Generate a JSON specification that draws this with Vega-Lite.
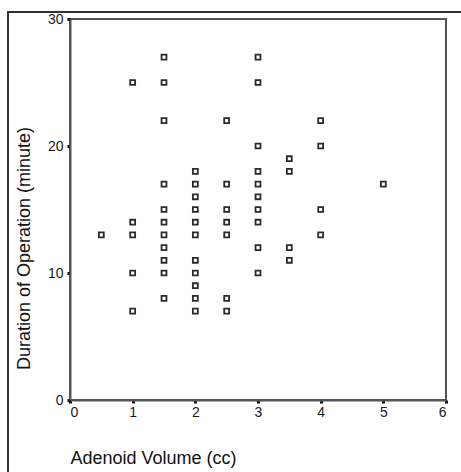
{
  "$schema": "https://vega.github.io/schema/vega-lite/v6.json",
  "autosize": "none",
  "width": 376,
  "height": 381,
  "padding": {"left": 70, "top": 19, "right": 15, "bottom": 72},
  "background": "white",
  "config": {
    "font": "Liberation Sans",
    "view": {"stroke": "#555", "strokeWidth": 2},
    "axis": {
      "grid": false,
      "domainColor": "#555",
      "domainWidth": 2,
      "tickColor": "#111",
      "tickSize": 3,
      "tickWidth": 3,
      "labelFont": "Liberation Sans",
      "labelFontSize": 14,
      "labelColor": "#1a1a1a",
      "titleFont": "Liberation Sans",
      "titleFontSize": 18,
      "titleFontWeight": "normal",
      "titleColor": "#111"
    }
  },
  "data": {"values": [
    {"volume": 0.5, "duration": 13},
    {"volume": 1, "duration": 25},
    {"volume": 1, "duration": 14},
    {"volume": 1, "duration": 13},
    {"volume": 1, "duration": 10},
    {"volume": 1, "duration": 7},
    {"volume": 1.5, "duration": 27},
    {"volume": 1.5, "duration": 25},
    {"volume": 1.5, "duration": 22},
    {"volume": 1.5, "duration": 17},
    {"volume": 1.5, "duration": 15},
    {"volume": 1.5, "duration": 14},
    {"volume": 1.5, "duration": 13},
    {"volume": 1.5, "duration": 12},
    {"volume": 1.5, "duration": 11},
    {"volume": 1.5, "duration": 10},
    {"volume": 1.5, "duration": 8},
    {"volume": 2, "duration": 18},
    {"volume": 2, "duration": 17},
    {"volume": 2, "duration": 16},
    {"volume": 2, "duration": 15},
    {"volume": 2, "duration": 14},
    {"volume": 2, "duration": 13},
    {"volume": 2, "duration": 11},
    {"volume": 2, "duration": 10},
    {"volume": 2, "duration": 9},
    {"volume": 2, "duration": 8},
    {"volume": 2, "duration": 7},
    {"volume": 2.5, "duration": 22},
    {"volume": 2.5, "duration": 17},
    {"volume": 2.5, "duration": 15},
    {"volume": 2.5, "duration": 14},
    {"volume": 2.5, "duration": 13},
    {"volume": 2.5, "duration": 8},
    {"volume": 2.5, "duration": 7},
    {"volume": 3, "duration": 27},
    {"volume": 3, "duration": 25},
    {"volume": 3, "duration": 20},
    {"volume": 3, "duration": 18},
    {"volume": 3, "duration": 17},
    {"volume": 3, "duration": 16},
    {"volume": 3, "duration": 15},
    {"volume": 3, "duration": 14},
    {"volume": 3, "duration": 12},
    {"volume": 3, "duration": 10},
    {"volume": 3.5, "duration": 19},
    {"volume": 3.5, "duration": 18},
    {"volume": 3.5, "duration": 12},
    {"volume": 3.5, "duration": 11},
    {"volume": 4, "duration": 22},
    {"volume": 4, "duration": 20},
    {"volume": 4, "duration": 15},
    {"volume": 4, "duration": 13},
    {"volume": 5, "duration": 17}
  ]},
  "layer": [
    {
      "mark": {"type": "point", "shape": "square", "filled": false, "size": 24, "strokeWidth": 1.8, "color": "#2a2a2a", "opacity": 1},
      "encoding": {
        "x": {
          "field": "volume", "type": "quantitative",
          "scale": {"domain": [0, 6], "nice": false, "zero": false},
          "axis": {
            "values": [0, 1, 2, 3, 4, 5, 6],
            "format": "d",
            "labelPadding": 2,
            "title": "Adenoid Volume (cc)",
            "titleAnchor": "start",
            "titleAlign": "left",
            "titleBaseline": "middle",
            "titleX": 0,
            "titleY": 58
          }
        },
        "y": {
          "field": "duration", "type": "quantitative",
          "scale": {"domain": [0, 30], "nice": false, "zero": false},
          "axis": {
            "values": [0, 10, 20, 30],
            "format": "d",
            "labelPadding": 4,
            "title": "Duration of Operation (minute)",
            "titleAngle": -90,
            "titleAlign": "center",
            "titleBaseline": "middle",
            "titleX": -46,
            "titleY": 229
          }
        }
      }
    },
    {
      "mark": {"type": "rule", "clip": false, "color": "#333", "strokeWidth": 1.5},
      "encoding": {
        "x": {"datum": -0.99, "type": "quantitative"},
        "y": {"datum": 30.55, "type": "quantitative"},
        "y2": {"datum": -6}
      }
    },
    {
      "mark": {"type": "rule", "clip": false, "color": "#333", "strokeWidth": 1.5},
      "encoding": {
        "x": {"datum": -0.99, "type": "quantitative"},
        "x2": {"datum": 6.4},
        "y": {"datum": 30.55, "type": "quantitative"}
      }
    }
  ]
}
